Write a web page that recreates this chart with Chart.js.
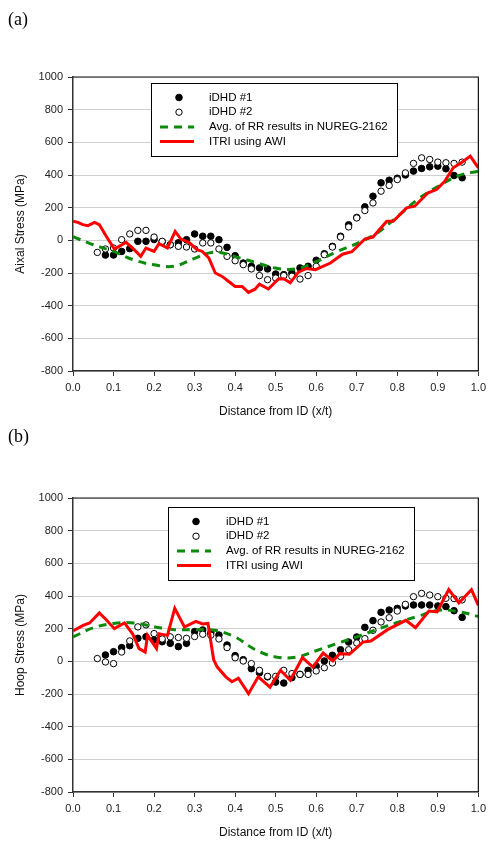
<!DOCTYPE html>
<html>
<head>
<meta charset="utf-8">
<script src="https://cdn.jsdelivr.net/npm/chart.js@4.4.0/dist/chart.umd.min.js"></script>
<style>
body { margin: 0; background: #fff; width: 491px; height: 841px; overflow: hidden; position: relative; }
canvas { position: absolute; left: 0; display: block; }
.tag { position: absolute; left: 8px; z-index: 2; font: 18px "Liberation Serif", "Times New Roman", serif; color: #000; }
</style>
</head>
<body>
<canvas id="axial" width="491" height="420" style="top:0"></canvas>
<canvas id="hoop" width="491" height="421" style="top:420px"></canvas>
<div class="tag" style="top:9px">(a)</div>
<div class="tag" style="top:426px">(b)</div>
<script>
'use strict';

// ── Data ───────────────────────────────────────────────────────────────────
const TICK_X = [0.0, 0.1, 0.2, 0.3, 0.4, 0.5, 0.6, 0.7, 0.8, 0.9, 1.0];
const TICK_Y = [-800, -600, -400, -200, 0, 200, 400, 600, 800, 1000];

const SERIES_LABELS = ['iDHD #1', 'iDHD #2', 'Avg. of RR results in NUREG-2162', 'ITRI using AWI'];

// iDHD #1 (filled) and iDHD #2 (open) measurement positions
const dhd1X = [0.08, 0.10, 0.12, 0.14, 0.16, 0.18, 0.20, 0.22, 0.24, 0.26,
               0.28, 0.30, 0.32, 0.34, 0.36, 0.38, 0.40, 0.42, 0.44, 0.46,
               0.48, 0.50, 0.52, 0.54, 0.56, 0.58, 0.60, 0.62, 0.64, 0.66,
               0.68, 0.70, 0.72, 0.74, 0.76, 0.78, 0.80, 0.82, 0.84, 0.86,
               0.88, 0.90, 0.92, 0.94, 0.96];
const dhd2X = [0.06, 0.08, 0.10, 0.12, 0.14, 0.16, 0.18, 0.20, 0.22, 0.24,
               0.26, 0.28, 0.30, 0.32, 0.34, 0.36, 0.38, 0.40, 0.42, 0.44,
               0.46, 0.48, 0.50, 0.52, 0.54, 0.56, 0.58, 0.60, 0.62, 0.64,
               0.66, 0.68, 0.70, 0.72, 0.74, 0.76, 0.78, 0.80, 0.82, 0.84,
               0.86, 0.88, 0.90, 0.92, 0.94, 0.96];

// (a) axial stress
const axialDhd1 = [-90, -90, -68, -51, -6, -6, 5, -8, -27, -15,
                   4, 39, 25, 25, 4, -43, -94, -139, -159, -169,
                   -175, -206, -210, -200, -169, -159, -122, -82, -37, 25,
                   95, 140, 205, 270, 352, 368, 380, 400, 424, 440,
                   450, 454, 438, 397, 383];
const axialDhd2 = [-74, -53, -47, 4, 39, 61, 61, 20, -6, -27,
                   -37, -41, -53, -16, -16, -53, -98, -125, -149, -175,
                   -216, -241, -231, -216, -220, -237, -216, -159, -88, -41,
                   20, 82, 137, 182, 229, 301, 336, 372, 413, 471,
                   505, 495, 479, 475, 471, 479];
const rrAvgX = [0.00, 0.05, 0.10, 0.15, 0.20, 0.25, 0.30, 0.35, 0.40, 0.45,
                0.50, 0.55, 0.60, 0.65, 0.70, 0.75, 0.80, 0.85, 0.90, 0.95, 1.00];
const axialRR = [22, -27, -68, -120, -150, -158, -110, -72, -100, -135,
                 -170, -175, -130, -70, -20, 45, 145, 250, 330, 395, 424];
const axialItriX = [0.000, 0.012, 0.024, 0.037, 0.053, 0.065, 0.082, 0.102, 0.114, 0.131,
                    0.151, 0.167, 0.180, 0.200, 0.212, 0.233, 0.252, 0.266, 0.286, 0.306,
                    0.319, 0.335, 0.351, 0.368, 0.384, 0.400, 0.417, 0.433, 0.449, 0.460,
                    0.482, 0.507, 0.520, 0.536, 0.556, 0.576, 0.598, 0.635, 0.665, 0.688,
                    0.720, 0.740, 0.774, 0.790, 0.823, 0.843, 0.876, 0.897, 0.917, 0.938,
                    0.958, 0.980, 1.000];
const axialItri = [117, 110, 96, 90, 110, 96, 25, -53, -37, -12,
                   -57, -98, -47, -68, -20, -47, 55, 8, -12, -57,
                   -68, -108, -200, -221, -252, -282, -282, -319, -299, -268,
                   -298, -237, -235, -260, -195, -172, -180, -139, -85, -70,
                   8, 20, 117, 117, 199, 209, 291, 311, 362, 444,
                   475, 516, 444];

// (b) hoop stress
const hoopDhd1 = [39, 59, 84, 96, 141, 150, 130, 120, 110, 90,
                  110, 182, 192, 175, 161, 100, 35, 10, -45, -70,
                  -95, -127, -133, -100, -80, -55, -30, 2, 37, 71,
                  118, 149, 208, 249, 300, 314, 324, 339, 345, 345,
                  345, 339, 335, 310, 269];
const hoopDhd2 = [17, -4, -14, 57, 125, 211, 223, 170, 137, 150,
                  146, 141, 152, 166, 160, 137, 84, 22, 2, -14,
                  -55, -92, -92, -55, -75, -80, -80, -59, -39, -10,
                  30, 71, 112, 139, 190, 241, 267, 308, 349, 396,
                  416, 406, 396, 386, 384, 376];
const hoopRR = [149, 205, 232, 235, 212, 194, 194, 190, 149, 71,
                27, 25, 65, 108, 150, 195, 238, 275, 312, 305, 275];
const hoopItriX = [0.000, 0.025, 0.041, 0.065, 0.082, 0.102, 0.127, 0.147, 0.163, 0.178,
                   0.184, 0.206, 0.212, 0.233, 0.251, 0.275, 0.303, 0.320, 0.333, 0.347,
                   0.356, 0.377, 0.392, 0.408, 0.433, 0.457, 0.486, 0.512, 0.536, 0.566,
                   0.592, 0.617, 0.641, 0.658, 0.682, 0.715, 0.735, 0.776, 0.821, 0.845,
                   0.878, 0.898, 0.927, 0.952, 0.983, 1.000];
const hoopItri = [186, 220, 235, 296, 255, 200, 235, 169, 78, 57,
                  159, 78, 169, 159, 324, 210, 245, 229, 232, 10,
                  -35, -95, -125, -103, -198, -95, -158, -55, -116, 22,
                  -35, 51, 2, 47, 43, 118, 124, 194, 251, 206,
                  308, 302, 439, 357, 439, 343];

// ── Helpers ────────────────────────────────────────────────────────────────
const FONT = '"Liberation Sans", Arial, sans-serif';
const pairs = (xs, ys) => xs.map((x, i) => ({ x: x, y: ys[i] }));

// Boxed legend drawn inside the plot, like the original figure
const boxLegend = {
    id: 'boxLegend',
    afterDraw(chart, args, opts) {
        const ctx = chart.ctx;
        const { left, top, width, height } = opts;
        ctx.save();
        ctx.fillStyle = '#fff';
        ctx.fillRect(left, top, width, height);
        ctx.strokeStyle = '#000';
        ctx.lineWidth = 1;
        ctx.strokeRect(left + 0.5, top + 0.5, width, height);
        ctx.font = '11.5px ' + FONT;
        ctx.textBaseline = 'middle';
        chart.data.datasets.forEach((ds, i) => {
            const y = top + 14.5 + i * 14.7;
            if (ds.showLine) {
                ctx.beginPath();
                ctx.setLineDash(ds.borderDash || []);
                ctx.strokeStyle = ds.borderColor;
                ctx.lineWidth = ds.borderWidth;
                ctx.moveTo(left + 9, y);
                ctx.lineTo(left + 43, y);
                ctx.stroke();
                ctx.setLineDash([]);
            } else {
                ctx.beginPath();
                ctx.arc(left + 28, y, ds.pointRadius, 0, Math.PI * 2);
                ctx.fillStyle = ds.pointBackgroundColor;
                ctx.fill();
                ctx.strokeStyle = ds.pointBorderColor;
                ctx.lineWidth = ds.pointBorderWidth;
                ctx.stroke();
            }
            ctx.fillStyle = '#000';
            ctx.fillText(ds.label, left + 58, y);
        });
        ctx.restore();
    },
};

// Top and right frame lines of the plot area
const plotFrame = {
    id: 'plotFrame',
    afterDatasetsDraw(chart) {
        const { ctx, chartArea: a } = chart;
        ctx.save();
        ctx.strokeStyle = '#111';
        ctx.lineWidth = 1.2;
        ctx.beginPath();
        ctx.moveTo(a.left, a.top);
        ctx.lineTo(a.right, a.top);
        ctx.lineTo(a.right, a.bottom);
        ctx.stroke();
        ctx.restore();
    },
};

function initStressChart(canvasId, yTitle, dhd1, dhd2, rr, itriX, itri, padTop, legendBox) {
    const ctx = document.getElementById(canvasId);
    return new Chart(ctx, {
        type: 'scatter',
        data: {
            datasets: [{
                label: SERIES_LABELS[0],
                data: pairs(dhd1X, dhd1),
                pointRadius: 3.3,
                pointBackgroundColor: '#000',
                pointBorderColor: '#000',
                pointBorderWidth: 1,
                order: 3,
            }, {
                label: SERIES_LABELS[1],
                data: pairs(dhd2X, dhd2),
                pointRadius: 3.2,
                pointBackgroundColor: '#fff',
                pointBorderColor: '#000',
                pointBorderWidth: 1,
                order: 2,
            }, {
                label: SERIES_LABELS[2],
                data: pairs(rrAvgX, rr),
                showLine: true,
                pointRadius: 0,
                borderColor: '#0b8a0b',
                borderWidth: 3,
                borderDash: [8, 6],
                tension: 0.4,
                order: 1,
            }, {
                label: SERIES_LABELS[3],
                data: pairs(itriX, itri),
                showLine: true,
                pointRadius: 0,
                borderColor: '#ff0000',
                borderWidth: 3,
                tension: 0,
                order: 0,
            }],
        },
        options: {
            responsive: false,
            animation: false,
            devicePixelRatio: 1,
            layout: { padding: { top: padTop, right: 10, left: 0, bottom: 0 } },
            plugins: {
                legend: { display: false },
                tooltip: { enabled: false },
                boxLegend: legendBox,
            },
            scales: {
                x: {
                    type: 'linear',
                    min: 0,
                    max: 1,
                    afterBuildTicks: s => { s.ticks = TICK_X.map(v => ({ value: v })); },
                    afterFit: s => { s.height = 49; },
                    grid: { drawOnChartArea: false, tickLength: 5, tickColor: '#333' },
                    border: { color: '#333', width: 1.5 },
                    ticks: {
                        padding: 5,
                        color: '#222',
                        font: { family: FONT, size: 11 },
                        callback: v => v.toFixed(1),
                    },
                    title: {
                        display: true,
                        text: 'Distance from ID (x/t)',
                        color: '#111',
                        font: { family: FONT, size: 12 },
                        padding: { top: 0, bottom: 1 },
                    },
                },
                y: {
                    min: -800,
                    max: 1000,
                    afterBuildTicks: s => { s.ticks = TICK_Y.map(v => ({ value: v })); },
                    afterFit: s => { s.width = 73; },
                    grid: { color: '#cfcfcf', lineWidth: 1, tickLength: 5, tickColor: '#333' },
                    border: { color: '#333', width: 1.5 },
                    ticks: {
                        padding: 5,
                        color: '#222',
                        font: { family: FONT, size: 11 },
                        callback: v => String(v),
                    },
                    title: {
                        display: true,
                        text: yTitle,
                        color: '#111',
                        font: { family: FONT, size: 12 },
                        padding: { top: 13, bottom: 0 },
                    },
                },
            },
        },
        plugins: [plotFrame, boxLegend],
    });
}

initStressChart('axial', 'Aixal Stress (MPa)', axialDhd1, axialDhd2, axialRR, axialItriX, axialItri,
    77, { left: 151, top: 83, width: 246, height: 73 });
initStressChart('hoop', 'Hoop Stress (MPa)', hoopDhd1, hoopDhd2, hoopRR, hoopItriX, hoopItri,
    78, { left: 168, top: 87, width: 246, height: 73 });
</script>
</body>
</html>
